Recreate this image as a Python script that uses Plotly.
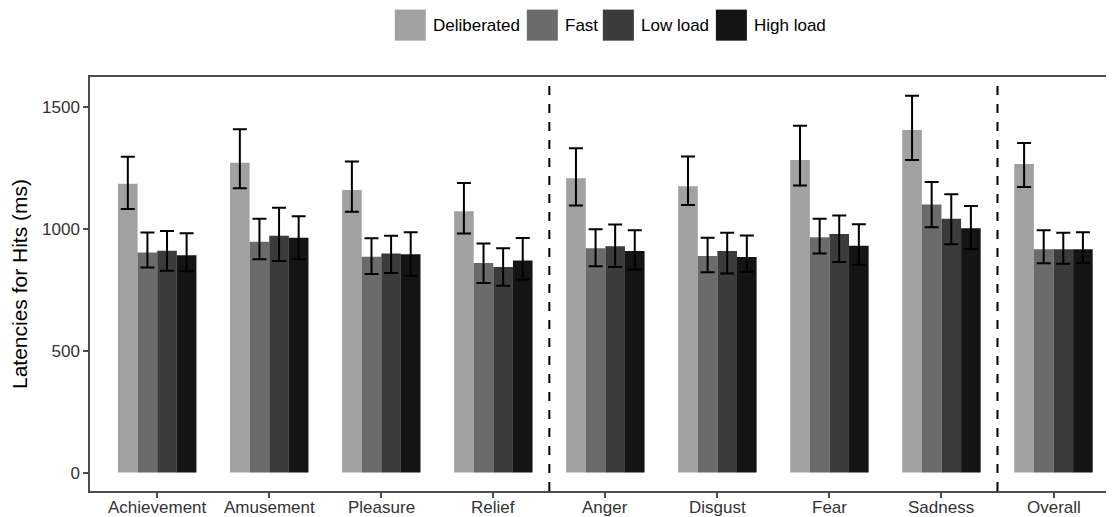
import plotly.graph_objects as go

categories = ["Achievement", "Amusement", "Pleasure", "Relief", "Anger",
              "Disgust", "Fear", "Sadness", "Overall"]
series_names = ["Deliberated", "Fast", "Low load", "High load"]
series_colors = ["#a1a1a1", "#6b6b6b", "#3b3b3b", "#141414"]

deliberated = [1184, 1270, 1159, 1072, 1207, 1174, 1282, 1405, 1265]
deliberated_hi = [1295, 1408, 1275, 1187, 1330, 1296, 1422, 1545, 1351]
deliberated_lo = [1081, 1166, 1069, 980, 1095, 1097, 1177, 1282, 1171]

fast = [902, 946, 885, 859, 920, 888, 965, 1099, 916]
fast_hi = [984, 1041, 961, 939, 998, 963, 1041, 1191, 994]
fast_lo = [841, 875, 814, 777, 846, 821, 898, 1006, 858]

low_load = [910, 971, 898, 843, 928, 909, 978, 1041, 916]
low_load_hi = [991, 1086, 971, 920, 1017, 983, 1054, 1141, 983]
low_load_lo = [828, 868, 818, 766, 843, 816, 863, 936, 856]

high_load = [891, 963, 895, 870, 909, 884, 930, 1002, 916]
high_load_hi = [981, 1051, 985, 962, 994, 972, 1018, 1093, 985]
high_load_lo = [825, 875, 807, 792, 833, 823, 852, 917, 859]

values = [deliberated, fast, low_load, high_load]
highs = [deliberated_hi, fast_hi, low_load_hi, high_load_hi]
lows = [deliberated_lo, fast_lo, low_load_lo, high_load_lo]

y_ticks = [0, 500, 1000, 1500]
divider_positions = [3.5, 7.5]  # between Relief/Anger and Sadness/Overall

FONT = "Liberation Sans, Arial, sans-serif"
OFF = 8  # page body margin
W, H = 1114 - OFF, 517 - OFF
L, T = 90.3 - OFF, 77.3 - OFF
B = H - (490.7 - OFF)
R = 0
PW, PH = W - L - R, H - T - B

def px_x(px):
    return (px - OFF - L) / PW

def px_y(py):
    return (H - B - (py - OFF)) / PH

fig = go.Figure()
for name, color, v, hi, lo in zip(series_names, series_colors, values, highs, lows):
    fig.add_trace(go.Bar(
        x=categories, y=v, name=name,
        marker=dict(color=color, line=dict(width=0)),
        error_y=dict(type="data", symmetric=False,
                     array=[h - a for h, a in zip(hi, v)],
                     arrayminus=[a - l for l, a in zip(lo, v)],
                     color="black", thickness=2, width=7),
        showlegend=False,
    ))

shapes = []
for xp in divider_positions:
    shapes.append(dict(type="line", xref="x", yref="paper", x0=xp, x1=xp, y0=0, y1=1,
                       line=dict(color="black", width=2, dash="9px,9px")))

annotations = []
# category labels under the axis (placed closer than plotly's default tick labels)
for cat in categories:
    annotations.append(dict(xref="x", yref="paper", x=cat, y=px_y(507.5),
                            xanchor="center", yanchor="middle", text=cat,
                            showarrow=False,
                            font=dict(family=FONT, size=17, color="#333333")))

# custom legend with large keys
legend_sq = [395, 527, 603, 716]
sq_size = 31
for name, color, x0 in zip(series_names, series_colors, legend_sq):
    shapes.append(dict(type="rect", xref="paper", yref="paper",
                       x0=px_x(x0), x1=px_x(x0 + sq_size),
                       y0=px_y(10 + sq_size), y1=px_y(10),
                       fillcolor=color, line=dict(width=0)))
    annotations.append(dict(xref="paper", yref="paper", x=px_x(x0 + sq_size + 5),
                            y=px_y(26), xanchor="left", yanchor="middle",
                            text=name, showarrow=False,
                            font=dict(family=FONT, size=17, color="black")))

fig.update_layout(
    width=W, height=H,
    margin=dict(l=L, r=R, t=T, b=B, autoexpand=False),
    plot_bgcolor="white", paper_bgcolor="white",
    barmode="group", bargap=0.3, bargroupgap=0,
    shapes=shapes, annotations=annotations,
    font=dict(family=FONT),
    xaxis=dict(
        range=[-0.6, 8.54], showgrid=False, zeroline=False,
        showline=True, linecolor="#4d4d4d", linewidth=1.5, mirror=True,
        ticks="outside", ticklen=5, tickwidth=1.5, tickcolor="#4d4d4d",
        showticklabels=False,
        automargin=False,
    ),
    yaxis=dict(
        range=[-75.6, 1622], showgrid=False, zeroline=False,
        showline=True, linecolor="#4d4d4d", linewidth=1.5,
        tickvals=y_ticks, ticks="outside", ticklen=5, tickwidth=1.5, tickcolor="#4d4d4d",
        tickfont=dict(family=FONT, size=17, color="#333333"),
        title=dict(text="Latencies for Hits (ms)", standoff=12,
                   font=dict(family=FONT, size=21, color="black")),
        automargin=False,
    ),
)

fig.write_html("out.html")
